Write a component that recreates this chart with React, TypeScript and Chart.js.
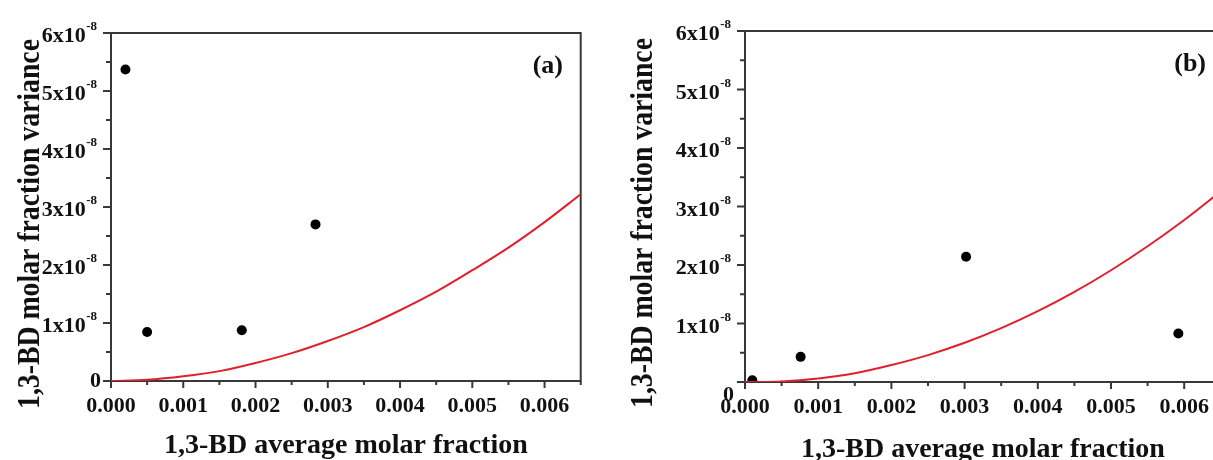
import React, { useEffect, useRef } from 'react';
import { Chart, registerables } from 'chart.js';
Chart.register(...registerables);

const FONT = '"Liberation Serif", "Times New Roman", serif';

// ---- data ----
const CURVE_X = [0, 0.0005, 0.001, 0.0015, 0.002, 0.0025, 0.003, 0.0035, 0.004, 0.0045, 0.005, 0.0055, 0.006, 0.0065];

const A_POINTS_X = [0.0002, 0.0005, 0.00181, 0.00283];
const A_POINTS_Y = [5.37e-8, 0.845e-8, 0.875e-8, 2.7e-8];
const A_CURVE_Y = [0, 0.02e-8, 0.08e-8, 0.17e-8, 0.31e-8, 0.48e-8, 0.69e-8, 0.93e-8, 1.22e-8, 1.54e-8, 1.91e-8, 2.3e-8, 2.74e-8, 3.22e-8];

const B_POINTS_X = [0.0001, 0.00076, 0.00302, 0.00592];
const B_POINTS_Y = [0.03e-8, 0.43e-8, 2.14e-8, 0.83e-8];
const B_CURVE_Y = [0, 0.01e-8, 0.06e-8, 0.15e-8, 0.29e-8, 0.46e-8, 0.67e-8, 0.92e-8, 1.21e-8, 1.54e-8, 1.91e-8, 2.32e-8, 2.77e-8, 3.26e-8];

// ---- ticks ----
const X_MAJOR = [0, 0.001, 0.002, 0.003, 0.004, 0.005, 0.006];
const X_LABELS = ['0.000', '0.001', '0.002', '0.003', '0.004', '0.005', '0.006'];
const X_MINOR = [0.0005, 0.0015, 0.0025, 0.0035, 0.0045, 0.0055, 0.0065];
const Y_MAJOR = [0, 1e-8, 2e-8, 3e-8, 4e-8, 5e-8, 6e-8];
const Y_MANTISSA = ['0', '1', '2', '3', '4', '5', '6'];
const Y_MINOR = [0.5e-8, 1.5e-8, 2.5e-8, 3.5e-8, 4.5e-8, 5.5e-8];

const X_TITLE = '1,3-BD average molar fraction';
const Y_TITLE = '1,3-BD molar fraction variance';

type Cfg = {
  left: number; width: number; top: number; bottom: number; plotLeft: number; plotRight: number;
  label: string; labelRight: number; labelBase: number;
  yTitleX: number; yTitleY: number; xTitleBase: number;
  zeroRight: number; zeroBase: number;
  px: number[]; py: number[]; cy: number[];
};

const PANELS: Cfg[] = [
  {
    left: 0, width: 600, top: 33, bottom: 381, plotLeft: 111, plotRight: 580.7,
    label: '(a)', labelRight: 563, labelBase: 73,
    yTitleX: 39, yTitleY: 224, xTitleBase: 453,
    zeroRight: 101, zeroBase: 387,
    px: A_POINTS_X, py: A_POINTS_Y, cy: A_CURVE_Y,
  },
  {
    left: 610, width: 630, top: 31, bottom: 382, plotLeft: 745, plotRight: 1220.8,
    label: '(b)', labelRight: 1206, labelBase: 71,
    yTitleX: 652, yTitleY: 223, xTitleBase: 457,
    zeroRight: 734, zeroBase: 401,
    px: B_POINTS_X, py: B_POINTS_Y, cy: B_CURVE_Y,
  },
];

function makePlugin(cfg: Cfg) {
  const off = cfg.left;
  return {
    id: 'decor' + cfg.label,
    beforeDatasetsDraw(chart: any) {
      const { ctx, chartArea: ca, scales } = chart;
      const x = scales.x, y = scales.y;
      ctx.save();
      ctx.strokeStyle = '#383838';
      ctx.lineWidth = 2;
      ctx.strokeRect(ca.left, ca.top, ca.right - ca.left, ca.bottom - ca.top);
      ctx.beginPath();
      X_MAJOR.forEach((v) => { const p = x.getPixelForValue(v); ctx.moveTo(p, ca.bottom); ctx.lineTo(p, ca.bottom + 7); });
      X_MINOR.forEach((v) => { const p = x.getPixelForValue(v); ctx.moveTo(p, ca.bottom); ctx.lineTo(p, ca.bottom + 4); });
      Y_MAJOR.forEach((v) => { const p = y.getPixelForValue(v); ctx.moveTo(ca.left, p); ctx.lineTo(ca.left - 8, p); });
      Y_MINOR.forEach((v) => { const p = y.getPixelForValue(v); ctx.moveTo(ca.left, p); ctx.lineTo(ca.left - 5, p); });
      ctx.stroke();
      ctx.restore();
    },
    afterDraw(chart: any) {
      const { ctx, chartArea: ca, scales } = chart;
      const x = scales.x, y = scales.y;
      ctx.save();
      ctx.fillStyle = '#111';
      // x tick labels
      ctx.font = 'bold 22px ' + FONT;
      ctx.textAlign = 'center';
      ctx.textBaseline = 'alphabetic';
      X_MAJOR.forEach((v, i) => { ctx.fillText(X_LABELS[i], x.getPixelForValue(v), ca.bottom + 30.5); });
      // y tick labels
      Y_MAJOR.forEach((v, i) => {
        const p = y.getPixelForValue(v);
        if (v === 0) {
          ctx.font = 'bold 22px ' + FONT;
          ctx.textAlign = 'right';
          ctx.fillText(Y_MANTISSA[i], cfg.zeroRight - off, cfg.zeroBase);
          return;
        }
        ctx.font = 'bold 13px ' + FONT;
        ctx.textAlign = 'right';
        const supRight = ca.left - 14;
        const supW = ctx.measureText('-8').width;
        ctx.fillText('-8', supRight, p - 2.6);
        ctx.font = 'bold 22px ' + FONT;
        ctx.fillText(Y_MANTISSA[i] + 'x10', supRight - supW - 0.5, p + 9.4);
      });
      // axis titles
      ctx.font = 'bold 28px ' + FONT;
      ctx.textAlign = 'center';
      ctx.fillText(X_TITLE, (ca.left + ca.right) / 2, cfg.xTitleBase);
      ctx.save();
      ctx.font = 'bold 31px ' + FONT;
      const w = ctx.measureText(Y_TITLE).width;
      ctx.translate(cfg.yTitleX - off, cfg.yTitleY);
      ctx.rotate(-Math.PI / 2);
      ctx.scale(370 / w, 1);
      ctx.fillText(Y_TITLE, 0, 0);
      ctx.restore();
      // panel label
      ctx.font = 'bold 26px ' + FONT;
      ctx.textAlign = 'right';
      ctx.fillText(cfg.label, cfg.labelRight - off, cfg.labelBase);
      ctx.restore();
    },
  };
}

function Panel({ cfg }: { cfg: Cfg }) {
  const ref = useRef<HTMLCanvasElement | null>(null);
  useEffect(() => {
    if (!ref.current) return;
    const yWidth = cfg.plotLeft - cfg.left;
    const xHeight = 460 - cfg.bottom;
    const padRight = cfg.left + cfg.width - cfg.plotRight;
    const chart = new Chart(ref.current, {
      type: 'scatter',
      data: {
        datasets: [
          {
            label: 'fit',
            data: CURVE_X.map((v, i) => ({ x: v, y: cfg.cy[i] })),
            showLine: true,
            borderColor: '#e0202c',
            borderWidth: 2,
            pointRadius: 0,
            cubicInterpolationMode: 'monotone',
            fill: false,
          },
          {
            label: 'data',
            data: cfg.px.map((v, i) => ({ x: v, y: cfg.py[i] })),
            showLine: false,
            backgroundColor: '#000',
            borderColor: '#000',
            pointRadius: 5,
            pointBorderWidth: 0,
          },
        ],
      },
      options: {
        responsive: false,
        animation: false,
        devicePixelRatio: 1,
        layout: { padding: { top: cfg.top, right: padRight, left: 0, bottom: 0 } },
        plugins: { legend: { display: false }, tooltip: { enabled: false } },
        scales: {
          x: {
            type: 'linear', min: 0, max: 0.0065,
            grid: { display: false }, border: { display: false },
            ticks: { display: false },
            afterFit: (s: any) => { s.height = xHeight; },
          },
          y: {
            type: 'linear', min: 0, max: 6e-8,
            grid: { display: false }, border: { display: false },
            ticks: { display: false },
            afterFit: (s: any) => { s.width = yWidth; },
          },
        },
      },
      plugins: [makePlugin(cfg)],
    } as any);
    return () => chart.destroy();
  }, []);
  return (
    <canvas
      ref={ref}
      width={cfg.width}
      height={460}
      style={{ position: 'absolute', left: cfg.left, top: 0, width: cfg.width, height: 460 }}
    />
  );
}

export default function App() {
  return (
    <div style={{ position: 'absolute', left: 0, top: 0, width: 1213, height: 460, overflow: 'hidden', background: '#fff' }}>
      {PANELS.map((p) => <Panel key={p.label} cfg={p} />)}
    </div>
  );
}
